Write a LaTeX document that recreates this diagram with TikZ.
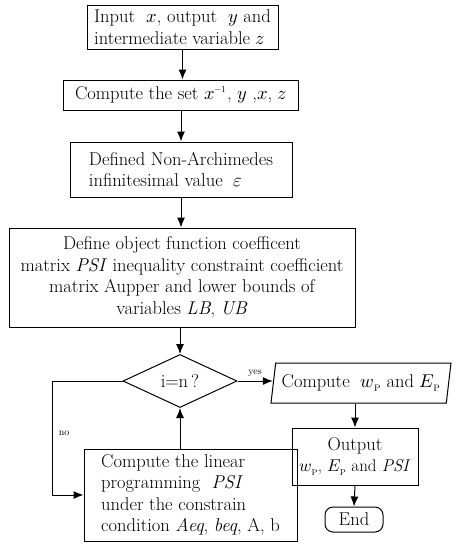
\documentclass[tikz,border=0pt]{standalone}
\usepackage{unicode-math}
\usetikzlibrary{arrows.meta,shapes.geometric}
\begin{document}
\begin{tikzpicture}[x=1pt,y=-1pt,
  box/.style={draw,line width=1pt,inner sep=0pt,font=\fontsize{18.5}{21.5}\selectfont},
  arr/.style={line width=1pt,-{Latex[length=10pt,width=8pt]}},
  lab/.style={font=\fontsize{10}{11}\selectfont}]
\useasboundingbox (0,0) rectangle (457,550);
\node[box,minimum width=191,minimum height=44,align=left] (b1) at (182.5,27)
  {Input\ \ $x$, output\ \ $y$ and\\intermediate variable $z$};
\node[box,minimum width=235,minimum height=30] (b2) at (181,95)
  {Compute the set $x^{\scriptscriptstyle -1}$, $y$ ,$x$, $z$};
\node[box,minimum width=222,minimum height=55,align=left] (b3) at (181,169.5)
  {Defined Non-Archimedes\\infinitesimal value\ \ $\boldsymbol{\varepsilon}$};
\node[box,minimum width=346,minimum height=99,align=center] (b4) at (182,277.5)
  {Define object function coefficent\\matrix \textit{PSI} inequality constraint coefficient\\matrix Aupper and lower bounds of\\variables \textit{LB}, \textit{UB}};
\node[box,diamond,aspect=2.15,minimum width=114,minimum height=53] (dia) at (180,381) {i=n\,?};
\node[box,trapezium,trapezium left angle=75,trapezium right angle=105,trapezium stretches body,
  minimum width=180,minimum height=40] (par) at (361,383)
  {Compute\ \ $w_{\scriptscriptstyle\mathrm{P}}$ and $E_{\scriptscriptstyle\mathrm{P}}$};
\node[box,minimum width=213,minimum height=92,align=left] (comp) at (190.5,495)
  {Compute the linear\\programming\ \ \textit{PSI}\\under the constrain\\condition \textit{Aeq}, \textit{beq}, A, b};
\node[box,minimum width=126,minimum height=57,align=center] (out) at (355,456.5)
  {Output\\{\fontsize{17}{21.5}\selectfont$w_{\scriptscriptstyle\mathrm{P}}$, $E_{\scriptscriptstyle\mathrm{P}}$ and \textit{PSI}}};
\node[box,rounded corners=8pt,minimum width=58,minimum height=25] (end) at (354,519.5) {End};
\draw[arr] (b1.south) -- (b2.north -| b1.south);
\draw[arr] (b2.south) -- (b3.north -| b2.south);
\draw[arr] (b3.south) -- (b4.north -| b3.south);
\draw[arr] (b4.south -| dia.north) -- (dia.north);
\draw[arr] (dia.east) -- node[lab,above=1pt] {yes} (dia.east -| par.west);
\draw[arr] (par.south -| out.north) -- (out.north);
\draw[arr] (out.south) -- (end.north);
\draw[arr] (comp.north -| dia.south) -- (dia.south);
\coordinate (nocorner) at (52,381);
\draw[arr] (dia.west) -- (nocorner) |- node[lab,pos=0.23,right=3pt] {no} (comp.west);
\end{tikzpicture}
\end{document}
